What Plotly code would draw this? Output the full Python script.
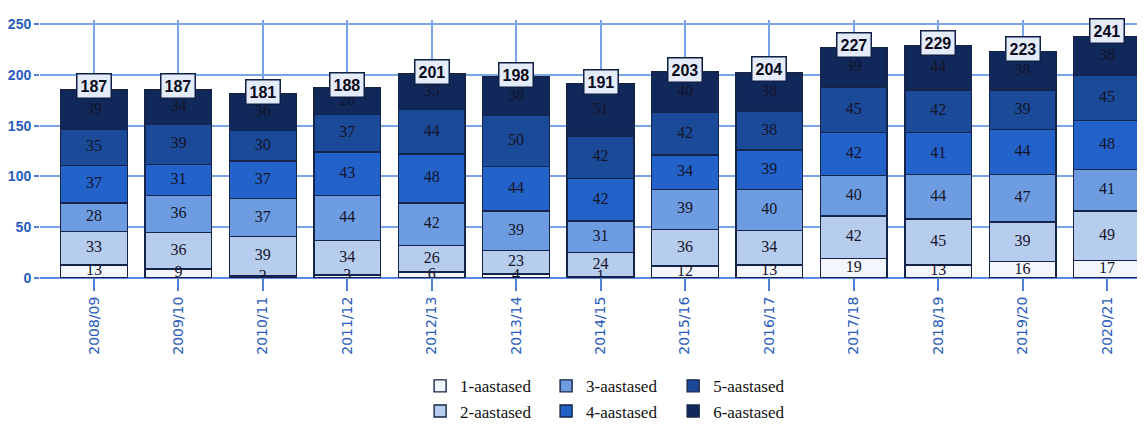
import plotly.graph_objects as go

years = ["2008/09", "2009/10", "2010/11", "2011/12", "2012/13", "2013/14", "2014/15",
         "2015/16", "2016/17", "2017/18", "2018/19", "2019/20", "2020/21"]
series_names = ["1-aastased", "2-aastased", "3-aastased", "4-aastased", "5-aastased", "6-aastased"]
age1 = [13, 9, 2, 3, 6, 4, 1, 12, 13, 19, 13, 16, 17]
age2 = [33, 36, 39, 34, 26, 23, 24, 36, 34, 42, 45, 39, 49]
age3 = [28, 36, 37, 44, 42, 39, 31, 39, 40, 40, 44, 47, 41]
age4 = [37, 31, 37, 43, 48, 44, 42, 34, 39, 42, 41, 44, 48]
age5 = [35, 39, 30, 37, 44, 50, 42, 42, 38, 45, 42, 39, 45]
age6 = [39, 34, 36, 26, 35, 38, 51, 40, 38, 39, 44, 38, 38]
totals = [187, 187, 181, 188, 201, 198, 191, 203, 204, 227, 229, 223, 241]
y_ticks = [0, 50, 100, 150, 200, 250]

colors = ["#f3f6fc", "#b7cdee", "#6e9ce0", "#2362c9", "#1b4a98", "#10295a"]
legend_ids = ["legend", "legend", "legend2", "legend2", "legend3", "legend3"]
series = [age1, age2, age3, age4, age5, age6]

fig = go.Figure()
idx = list(range(len(years)))
for name, vals, col, lg in zip(series_names, series, colors, legend_ids):
    fig.add_trace(go.Bar(
        x=idx, y=vals, name=name, width=0.79, legend=lg, legendgroup=name,
        marker=dict(color=col, line=dict(color="#14244a", width=1.4)),
        hoverinfo="skip",
    ))

# segment labels at segment centers
lx, ly, lt = [], [], []
for i in idx:
    base = 0
    for vals in series:
        v = vals[i]
        lx.append(i)
        ly.append(base + v / 2)
        lt.append(str(v))
        base += v
fig.add_trace(go.Scatter(
    x=lx, y=ly, text=lt, mode="text", showlegend=False, hoverinfo="skip",
    textfont=dict(family="Liberation Serif", size=16, color="#14142a"),
))

for i, t in zip(idx, totals):
    fig.add_annotation(
        x=i, y=t, text="<b>%d</b>" % t, showarrow=False, yanchor="middle", yshift=2,
        font=dict(family="Liberation Sans", size=16, color="#0a0a1a"),
        bgcolor="#e4ecfa", bordercolor="#0f1f45", borderwidth=1.5, borderpad=3,
    )

leg_common = dict(
    orientation="v", yanchor="top", y=-0.35, xanchor="left",
    font=dict(family="Liberation Serif", size=17, color="#111111"),
    tracegroupgap=6, traceorder="normal", bgcolor="rgba(0,0,0,0)",
)

# page body has an 8px margin; margins compensate so the plot area sits where the reference has it
fig.update_layout(
    barmode="stack",
    width=1145, height=432,
    margin=dict(l=32, r=8, t=12, b=162),
    plot_bgcolor="white", paper_bgcolor="white",
    showlegend=True,
    legend=dict(x=0.344, **leg_common),
    legend2=dict(x=0.458, **leg_common),
    legend3=dict(x=0.573, **leg_common),
    xaxis=dict(
        tickmode="array", tickvals=idx, ticktext=years, tickangle=-90,
        range=[-0.64, 12.45], automargin=False,
        showgrid=True, gridcolor="#7ba3ea", gridwidth=1.5,
        ticks="outside", ticklen=12, tickcolor="#4d7fd6", tickwidth=1.5,
        tickfont=dict(family="DejaVu Sans", size=14, color="#2a5bbd"),
        showline=False, zeroline=False,
    ),
    yaxis=dict(
        range=[0, 254], tickvals=y_ticks, automargin=False,
        showgrid=True, gridcolor="#7ba3ea", gridwidth=1.5,
        ticks="outside", ticklen=5, tickcolor="#4d7fd6", tickwidth=1.5,
        tickfont=dict(family="Liberation Sans", size=14, color="#2a5bbd", weight="bold"),
        zeroline=True, zerolinecolor="#5a8ae0", zerolinewidth=1.5,
        showline=False,
    ),
)

fig.write_html("out.html")
